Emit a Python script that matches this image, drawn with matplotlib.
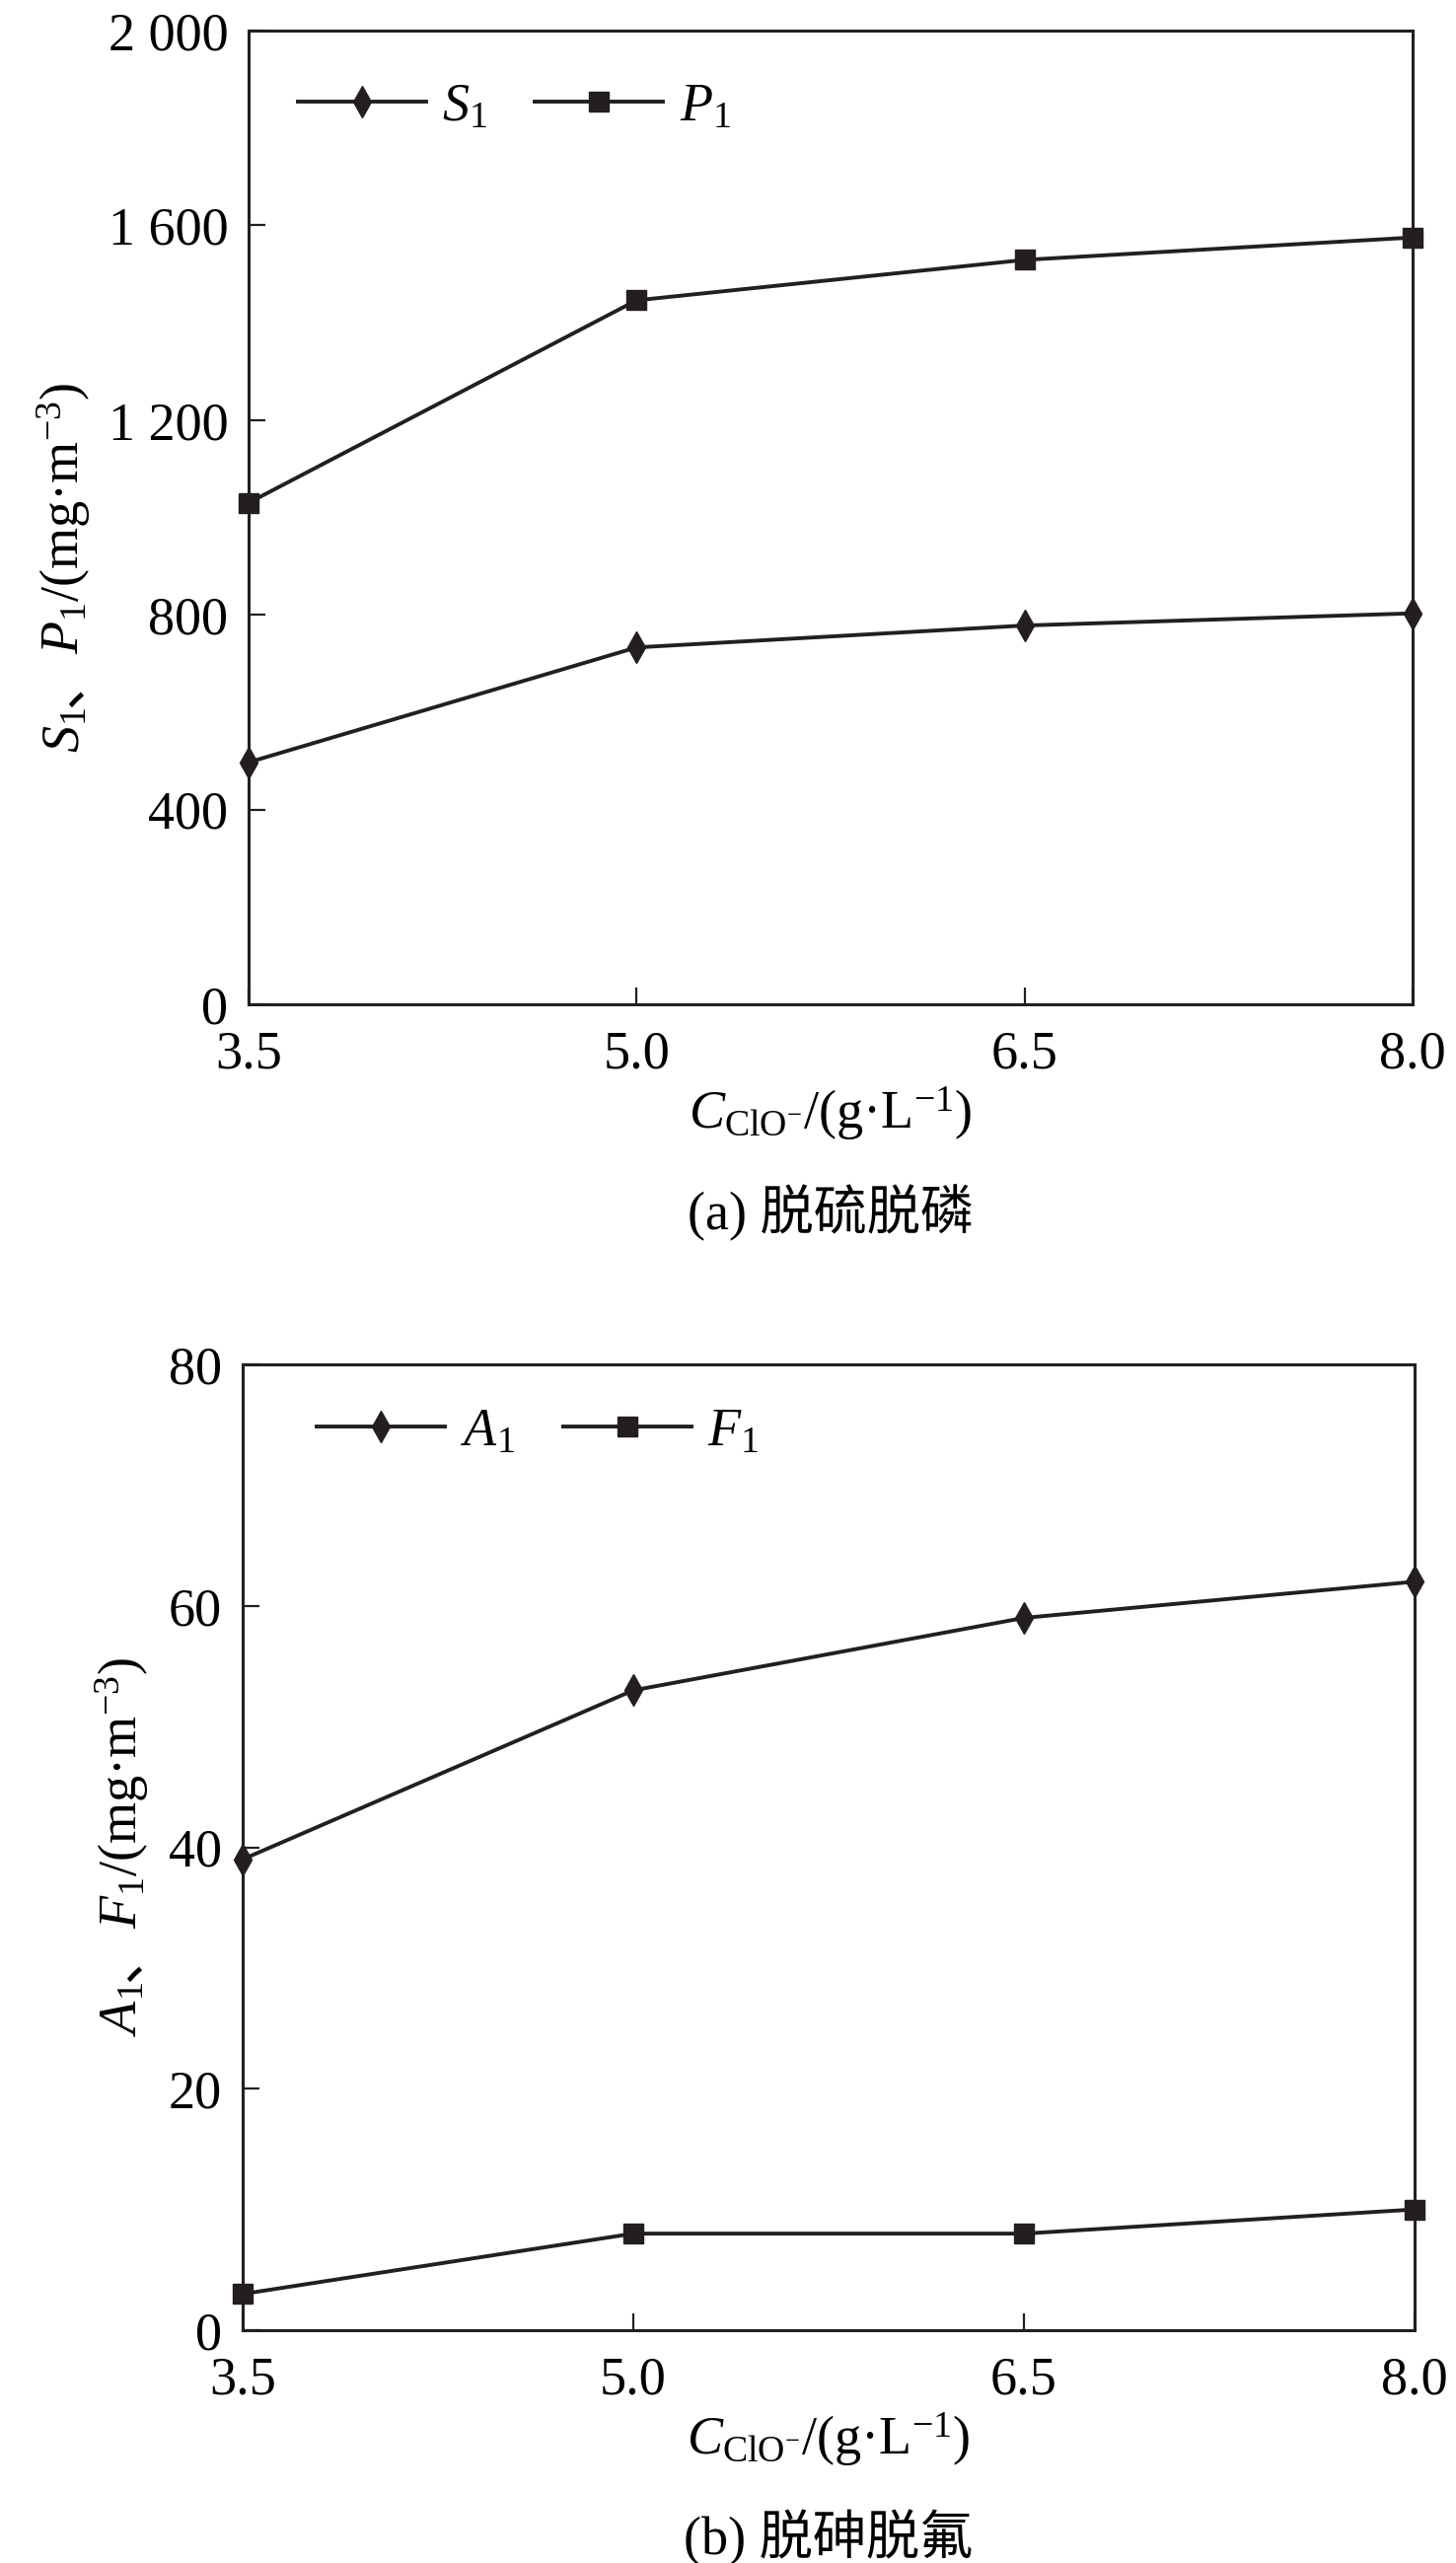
import matplotlib
matplotlib.use("Agg")
import matplotlib.pyplot as plt

# data
conc = [3.5, 5.0, 6.5, 8.0]
conc_labels = ["3.5", "5.0", "6.5", "8.0"]

s1 = [497, 733, 778, 803]
p1 = [1030, 1446, 1529, 1575]
ticks_a = [0, 400, 800, 1200, 1600, 2000]
tick_labels_a = ["0", "400", "800", "1 200", "1 600", "2 000"]

a1 = [39, 53, 59, 62]
f1 = [3, 8, 8, 10]
ticks_b = [0, 20, 40, 60, 80]
tick_labels_b = ["0", "20", "40", "60", "80"]

INK = "#231f20"
FS = 39

plt.rcParams["font.family"] = ["Liberation Serif", "Noto Sans CJK SC"]
plt.rcParams["mathtext.fontset"] = "custom"
plt.rcParams["mathtext.rm"] = "Liberation Serif"
plt.rcParams["mathtext.it"] = "Liberation Serif:italic"
plt.rcParams["mathtext.bf"] = "Liberation Serif:bold"

W, H = 1476, 2598
fig = plt.figure(figsize=(W / 100, H / 100), dpi=100)
renderer = fig.canvas.get_renderer()


def px_axes(l, t, r, b):
    return fig.add_axes([l / W, 1 - b / H, (r - l) / W, (b - t) / H])


def style(ax, yticks, ylabels, ymax):
    ax.set_xlim(3.5, 8.0)
    ax.set_ylim(0, ymax)
    ax.set_xticks(conc)
    ax.set_xticklabels(conc_labels)
    ax.set_yticks(yticks)
    ax.set_yticklabels(ylabels)
    for sp in ax.spines.values():
        sp.set_linewidth(2.2)
        sp.set_color(INK)
    ax.tick_params(direction="in", length=12, width=1.6, colors=INK,
                   labelsize=FS, labelcolor="black")
    ax.tick_params(axis="x", pad=19)
    ax.tick_params(axis="y", pad=15)


def draw(ax, y1, y2, n1, n2, lx, ly):
    ax.plot(conc, y1, color=INK, lw=2.8, marker="d", ms=16, clip_on=False,
            label=n1, zorder=3)
    ax.plot(conc, y2, color=INK, lw=2.8, marker="s", ms=15, clip_on=False,
            label=n2, zorder=3)
    ax.legend(loc="center left", bbox_to_anchor=(lx, ly), frameon=False,
              fontsize=FS, ncol=2, handlelength=2.4, handletextpad=0.3,
              columnspacing=0.9, borderpad=0, borderaxespad=0)


def ylabel_pieces(pieces, x_base, y_mid):
    # rotated label made of pieces so the CJK comma can use its own font
    texts = [fig.text(0, 0, p, rotation=90, rotation_mode="anchor",
                      ha="left", va="baseline", fontsize=FS)
             for p in pieces]
    lengths = [t.get_window_extent(renderer).height for t in texts]
    y = y_mid - sum(lengths) / 2
    for t, ln in zip(texts, lengths):
        t.set_position((x_base / W, y / H))
        y += ln


# (a)
ax1 = px_axes(252, 31, 1432, 1018)
draw(ax1, s1, p1, "$S_1$", "$P_1$", 0.042, 0.921)
style(ax1, ticks_a, tick_labels_a, 2000)
ylabel_pieces(["$S_1$", "、", "$P_1$/(mg·m$^{-3}$)"], 80, H - 575)
ax1.set_xlabel("$C_{\\mathrm{ClO}^{-}}$/(g·L$^{-1}$)", fontsize=FS, va="center")
ax1.xaxis.set_label_coords(0.5, -111 / 987)
ax1.text(0.5, -211 / 987, "(a) 脱硫脱磷", transform=ax1.transAxes,
         ha="center", va="center", fontsize=FS)

# (b)
ax2 = px_axes(246, 1383, 1434, 2362)
draw(ax2, a1, f1, "$A_1$", "$F_1$", 0.063, 0.9295)
style(ax2, ticks_b, tick_labels_b, 80)
ylabel_pieces(["$A_1$", "、", "$F_1$/(mg·m$^{-3}$)"], 139, H - 1872)
ax2.set_xlabel("$C_{\\mathrm{ClO}^{-}}$/(g·L$^{-1}$)", fontsize=FS, va="center")
ax2.xaxis.set_label_coords(0.5, -111 / 979)
ax2.text(0.5, -211 / 979, "(b) 脱砷脱氟", transform=ax2.transAxes,
         ha="center", va="center", fontsize=FS)

fig.savefig("out.png", dpi=100)
